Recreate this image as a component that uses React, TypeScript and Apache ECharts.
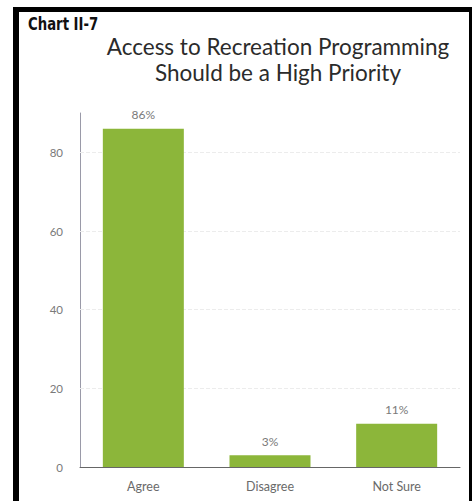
import React, { useEffect, useRef } from "react";
import * as echarts from "echarts";

const categories = ["Agree", "Disagree", "Not Sure"];
const values = [86, 3, 11];
const gridValues = [20, 40, 60, 80];
const chartLabel = "Chart II-7";
const titleText = "Access to Recreation Programming\nShould be a High Priority";

export default function App() {
  const ref = useRef<HTMLDivElement>(null);
  useEffect(() => {
    if (!ref.current) return;
    const chart = echarts.init(ref.current, undefined, { renderer: "svg" });
    chart.setOption({
      animation: false,
      backgroundColor: "#ffffff",
      title: {
        text: titleText,
        left: 273,
        textAlign: "center",
        top: 28,
        textStyle: {
          fontFamily: "Lato",
          fontWeight: "normal",
          fontSize: 22.5,
          lineHeight: 26,
          color: "#2b2b2b",
        },
      },
      graphic: [
        { type: "rect", shape: { x: 13, y: 7, width: 459, height: 5 }, style: { fill: "#000" } },
        { type: "rect", shape: { x: 13, y: 7, width: 6, height: 494 }, style: { fill: "#000" } },
        { type: "rect", shape: { x: 469, y: 7, width: 3, height: 494 }, style: { fill: "#000" } },
        {
          type: "text",
          x: 28,
          y: 16,
          scaleX: 0.78,
          style: {
            text: chartLabel,
            fontFamily: "'DejaVu Sans', sans-serif",
            fontWeight: "bold",
            fontSize: 17,
            fill: "#111",
          },
        },
      ],
      grid: { left: 80, right: 12, top: 113, bottom: 34 },
      xAxis: {
        type: "category",
        data: categories,
        axisLine: { lineStyle: { color: "#666", width: 1 } },
        axisTick: { show: false },
        axisLabel: { color: "#6a6a6a", fontFamily: "Lato", fontSize: 12.5, margin: 13 },
      },
      yAxis: {
        type: "value",
        min: 0,
        max: 90,
        interval: 20,
        axisLine: { show: true, lineStyle: { color: "#9a9aa8", width: 1 } },
        axisTick: { show: false },
        splitLine: { show: false },
        axisLabel: {
          color: "#7a7a7a",
          fontFamily: "Lato",
          fontSize: 11.5,
          margin: 17,
          showMaxLabel: false,
        },
      },
      series: [
        {
          type: "bar",
          data: values,
          barWidth: 81,
          z: 3,
          itemStyle: { color: "#8cb63a" },
          label: {
            show: true,
            position: "top",
            distance: 8,
            formatter: "{c}%",
            color: "#7a7a7a",
            fontFamily: "Lato",
            fontSize: 12,
          },
          markLine: {
            silent: true,
            z: 1,
            symbol: "none",
            label: { show: false },
            lineStyle: { color: "#ececec", type: "dashed", width: 1 },
            data: gridValues.map((v) => ({ yAxis: v })),
          },
        },
      ],
    });
    return () => chart.dispose();
  }, []);
  return (
    <div
      ref={ref}
      style={{ position: "fixed", left: 0, top: 0, width: 472, height: 501 }}
    />
  );
}
